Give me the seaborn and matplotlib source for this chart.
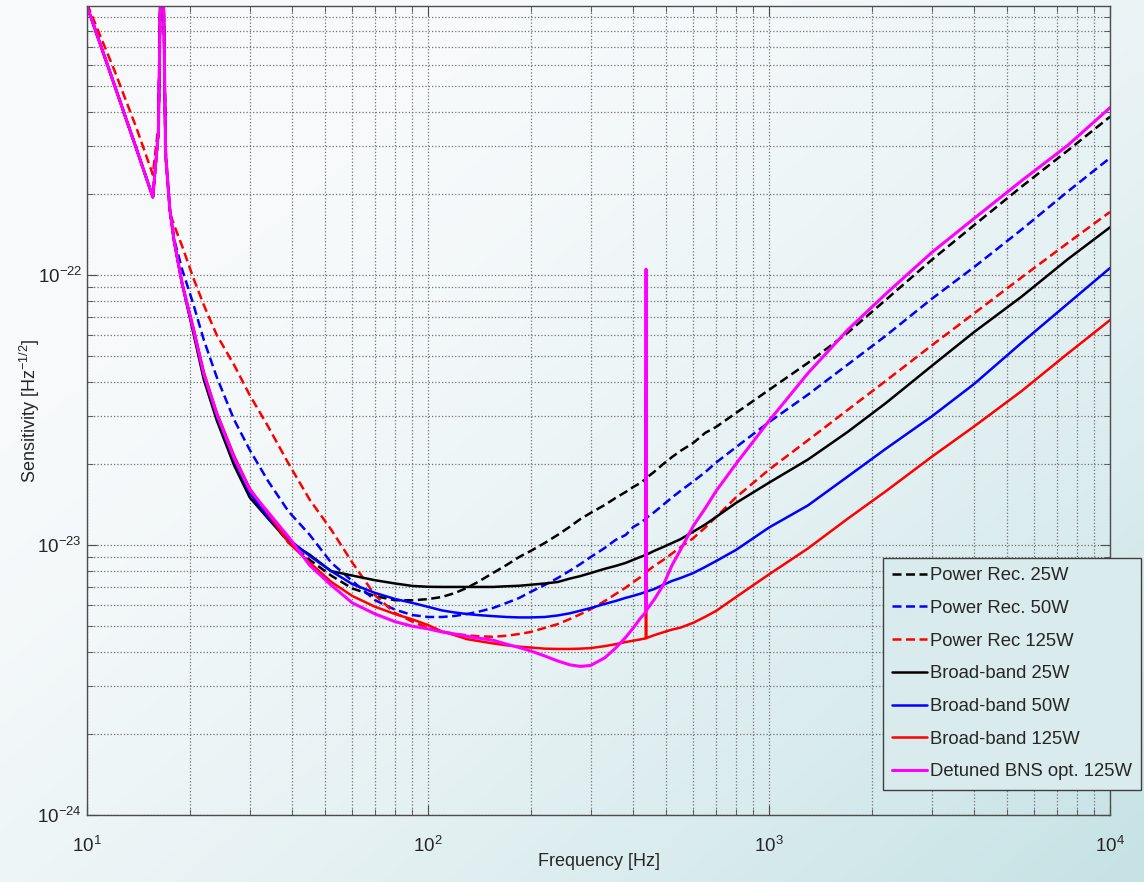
import numpy as np
import pandas as pd
import matplotlib
matplotlib.use("Agg")
import matplotlib.pyplot as plt
from matplotlib.ticker import LogLocator, NullFormatter
import seaborn as sns

# frequencies [Hz], shared by all curves
freq = [10, 12, 14, 15.6, 16.2, 16.6, 17.0, 17.5, 18, 19,
        20.5, 22, 24, 27, 30, 34, 39, 45, 52, 60,
        70, 80, 90, 100, 110, 120, 130, 140, 155, 170,
        185, 200, 220, 240, 260, 280, 300, 330, 355, 380,
        400, 420, 435, 436, 437, 460, 490, 520, 550, 600,
        650, 700, 800, 1000, 1300, 1700, 2200, 3000, 4000, 5500, 7500, 10000]

# sensitivity values in units of 1e-24 Hz^-1/2
power_rec_25w = [990, 510, 290, 194, 340, 3000, 280, 174, 134, 93,
                 62, 42.5, 30, 20.3, 15.5, 12.7, 10.2, 8.8, 7.7, 6.9,
                 6.47, 6.24, 6.24, 6.3, 6.42, 6.64, 6.93, 7.29, 7.87, 8.43,
                 9.02, 9.5, 10.17, 10.89, 11.66, 12.48, 13.14, 14.07, 14.93, 15.71,
                 16.4, 16.97, 17.56, 43, 17.71, 18.63, 19.95, 21.18, 22.29, 23.87,
                 26.0, 27.36, 30.8, 37.5, 47.2, 61.0, 80.8, 113.6, 153, 212, 288, 385]
power_rec_50w = [990, 510, 290, 194, 340, 3000, 280, 174, 136, 105,
                 78, 57.5, 41.9, 29.1, 22.5, 17.2, 13.3, 10.9, 8.6, 7.35,
                 6.24, 5.76, 5.5, 5.41, 5.41, 5.46, 5.55, 5.65, 5.84, 6.10,
                 6.36, 6.70, 7.11, 7.54, 8.01, 8.50, 9.02, 9.75, 10.44, 10.89,
                 11.66, 12.07, 12.5, 40, 12.6, 13.2, 14.1, 15.0, 15.85, 17.2,
                 18.6, 20.2, 23.0, 28.5, 36.0, 46.5, 59.5, 81.5, 107, 147, 203, 271]
power_rec_125w = [1010, 577, 347, 235, 360, 3000, 300, 170, 153, 128,
                  97.5, 77.4, 60, 46.4, 35.9, 27.4, 20.0, 14.7, 11.4, 8.6,
                  6.5, 5.6, 5.2, 4.93, 4.78, 4.68, 4.63, 4.59, 4.57, 4.61,
                  4.68, 4.76, 4.93, 5.09, 5.31, 5.54, 5.78, 6.2, 6.58, 6.95,
                  7.29, 7.6, 7.87, 35, 7.94, 8.36, 8.8, 9.3, 9.8, 10.6,
                  11.6, 12.7, 15.0, 19.0, 24.4, 31.6, 40.5, 54.8, 72.1, 97.8, 131, 171]
broad_band_25w = [990, 510, 290, 194, 340, 3000, 280, 174, 134, 93,
                  61, 41, 29, 19.7, 15.0, 12.5, 10.3, 9.2, 8.0, 7.7,
                  7.4, 7.2, 7.05, 7.0, 6.99, 6.99, 6.99, 6.99, 6.99, 7.03,
                  7.06, 7.12, 7.2, 7.29, 7.5, 7.67, 7.87, 8.16, 8.36, 8.58,
                  8.81, 9.03, 9.18, 35, 9.2, 9.5, 9.83, 10.17, 10.5, 11.2,
                  11.9, 12.7, 14.3, 17.0, 20.7, 26.2, 33.5, 46.0, 61.5, 83, 114, 150]
broad_band_50w = [990, 510, 290, 194, 340, 3000, 280, 174, 134, 93,
                  63, 43, 30.3, 20.7, 15.6, 12.6, 10.5, 9.1, 8.0, 7.16,
                  6.64, 6.31, 6.1, 5.9, 5.72, 5.62, 5.55, 5.5, 5.45, 5.41,
                  5.39, 5.39, 5.41, 5.48, 5.58, 5.71, 5.84, 6.05, 6.2, 6.37,
                  6.48, 6.6, 6.7, 35, 6.72, 6.86, 7.12, 7.36, 7.54, 7.87,
                  8.29, 8.72, 9.58, 11.6, 14.0, 17.9, 22.7, 29.9, 39.5, 56, 78, 106]
broad_band_125w = [990, 510, 290, 194, 340, 3000, 280, 174, 134, 93,
                   64, 43.7, 31, 21.4, 16.2, 13.0, 10.2, 8.6, 7.3, 6.47,
                   5.9, 5.55, 5.3, 5.05, 4.78, 4.63, 4.48, 4.41, 4.32, 4.25,
                   4.2, 4.17, 4.13, 4.12, 4.12, 4.13, 4.15, 4.22, 4.29, 4.37,
                   4.42, 4.47, 4.51, 35, 4.52, 4.63, 4.75, 4.86, 4.94, 5.15,
                   5.42, 5.7, 6.41, 7.78, 9.7, 12.5, 15.8, 21.2, 27.5, 37.1, 51, 68]
detuned_bns_125w = [990, 510, 290, 194, 340, 3000, 280, 174, 134, 93,
                    63, 43, 30.6, 21, 16, 13.2, 10.7, 8.4, 7.1, 6.1,
                    5.55, 5.2, 5.0, 4.89, 4.76, 4.68, 4.59, 4.52, 4.44, 4.29,
                    4.17, 4.05, 3.88, 3.72, 3.6, 3.55, 3.58, 3.82, 4.15, 4.55,
                    4.93, 5.36, 5.63, 105, 5.73, 6.26, 7.11, 8.43, 9.58, 11.77,
                    13.66, 15.85, 19.95, 28.8, 43.2, 62.5, 85, 121, 162, 223, 301, 416]

series = [
    ("Power Rec. 25W", power_rec_25w, "black", "--"),
    ("Power Rec. 50W", power_rec_50w, "blue", "--"),
    ("Power Rec 125W", power_rec_125w, "red", "--"),
    ("Broad-band 25W", broad_band_25w, "black", "-"),
    ("Broad-band 50W", broad_band_50w, "blue", "-"),
    ("Broad-band 125W", broad_band_125w, "red", "-"),
    ("Detuned BNS opt. 125W", detuned_bns_125w, "magenta", "-"),
]

sns.set_style("ticks")
plt.rcParams["font.family"] = ["Liberation Sans", "DejaVu Sans"]
plt.rcParams["mathtext.fontset"] = "custom"
plt.rcParams["mathtext.rm"] = "Liberation Sans"

fig = plt.figure(figsize=(11.44, 8.82), dpi=100)

# background gradient (white top-left -> pale teal bottom-right)
bg = fig.add_axes([0, 0, 1, 1], zorder=-10)
u = np.linspace(0, 1, 400)[None, :]
v = np.linspace(0, 1, 400)[:, None]
t = np.clip(0.6 * u + 0.55 * v - 0.25, 0, 1) ** 1.5
c0 = np.array([0.97, 0.98, 0.985])
c1 = np.array([0.74, 0.87, 0.88])
img = c0[None, None, :] * (1 - t[..., None]) + c1[None, None, :] * t[..., None]
bg.imshow(img, extent=[0, 1, 0, 1], aspect="auto")
bg.axis("off")

ax = fig.add_axes([87 / 1144, 67 / 882, 1023 / 1144, 809 / 882])
ax.set_facecolor("none")

for label, vals, color, ls in series:
    d = pd.DataFrame({"freq": freq, "h": np.array(vals) * 1e-24})
    lw = 2.2 if color == "magenta" else 1.8
    style = (0, (3.6, 1.8)) if ls == "--" else "-"
    sns.lineplot(data=d, x="freq", y="h", ax=ax, color=color, linestyle=style,
                 linewidth=lw, label=label, sort=False, estimator=None)

ax.set_xscale("log")
ax.set_yscale("log")
ax.set_xlim(10, 1e4)
ax.set_ylim(1e-24, 9.9e-22)
ax.set_xticks([10, 100, 1000, 10000])
ax.set_yticks([1e-24, 1e-23, 1e-22])
ax.xaxis.set_minor_locator(LogLocator(base=10, subs=np.arange(2, 10)))
ax.yaxis.set_minor_locator(LogLocator(base=10, subs=np.arange(2, 10)))
ax.xaxis.set_minor_formatter(NullFormatter())
ax.yaxis.set_minor_formatter(NullFormatter())

ax.grid(True, which="both", linestyle=":", color="0.45", linewidth=0.9)
ax.tick_params(which="both", direction="in", top=True, right=True,
               labelsize=13.5, color="0.3")
ax.tick_params(which="major", length=7)
ax.tick_params(which="minor", length=4)
ax.tick_params(axis="x", which="major", pad=15)
for s in ax.spines.values():
    s.set_color("0.3")
    s.set_linewidth(1.0)

ax.set_xlabel("Frequency [Hz]", fontsize=13)
ax.set_ylabel(r"Sensitivity [Hz$^{\mathdefault{-1/2}}$]", fontsize=13)
ax.xaxis.set_label_coords(0.5, -(853 - 815) / 809)
ax.yaxis.set_label_coords(-0.044, 0.5)

leg = ax.legend(loc="upper left", bbox_to_anchor=(883 / 1144, 1 - 558 / 882),
                bbox_transform=fig.transFigure, fontsize=13.3, frameon=True,
                fancybox=False, framealpha=1, facecolor=(0.85, 0.92, 0.93),
                edgecolor="0.25", handlelength=1.9, handletextpad=0.15,
                labelspacing=0.85, borderaxespad=0, borderpad=0.5)
leg.get_frame().set_linewidth(1.0)

fig.savefig("out.png", dpi=100)
